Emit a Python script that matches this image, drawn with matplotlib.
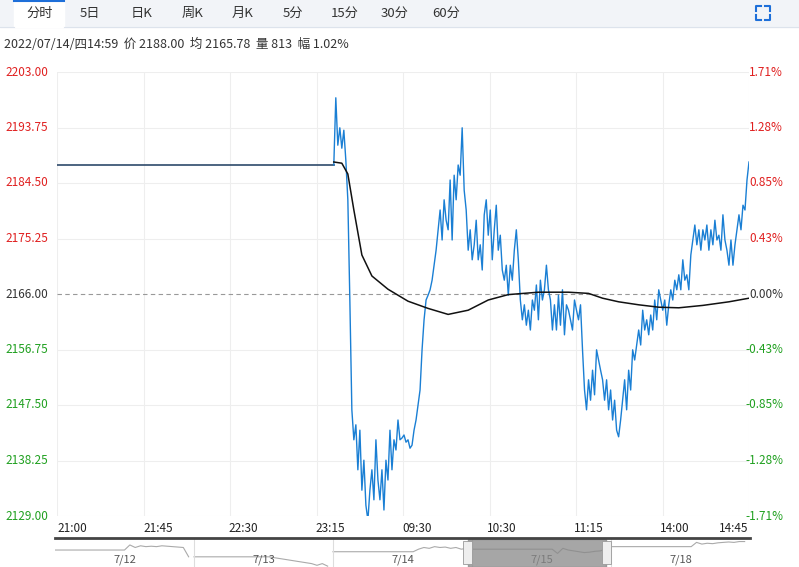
import matplotlib
matplotlib.use("Agg")
import matplotlib.pyplot as plt
from matplotlib.lines import Line2D
from matplotlib.patches import Rectangle

plt.rcParams['font.family'] = ['Noto Sans CJK SC', 'DejaVu Sans']

base = 2166.0
yticks = [2129.00, 2138.25, 2147.50, 2156.75, 2166.00, 2175.25, 2184.50, 2193.75, 2203.00]
pct_labels = ["-1.71%", "-1.28%", "-0.85%", "-0.43%", "0.00%", "0.43%", "0.85%", "1.28%", "1.71%"]
xtick_labels = ["21:00", "21:45", "22:30", "23:15", "09:30", "10:30", "11:15", "14:00", "14:45"]
tabs = ["分时", "5日", "日K", "周K", "月K", "5分", "15分", "30分", "60分"]
info = "2022/07/14/四14:59  价 2188.00  均 2165.78  量 813  幅 1.02%"

flat_price = 2187.5
flat_len = 138
price = [2187.5, 2198.7, 2190.8, 2193.7, 2190.3, 2193.3, 2188.3, 2181.7, 2165, 2146.7,
         2141.7, 2144.2, 2136.7, 2143.3, 2133.3, 2138.3, 2130.8, 2128.3, 2133.3, 2136.7,
         2131.7, 2141.7, 2135, 2131.7, 2136.7, 2130, 2138.3, 2135, 2143.3, 2136.7,
         2141.7, 2140, 2145, 2141.7, 2142, 2142.5, 2141.3, 2141.7, 2140.3, 2140.8,
         2143.3, 2145, 2147.5, 2150, 2156.7, 2161.7, 2165, 2165.8, 2166.7, 2168.3,
         2170.8, 2173.3, 2176.7, 2180, 2175, 2181.7, 2178.3, 2176.7, 2185, 2175,
         2185.8, 2181.7, 2187.5, 2185.8, 2193.7, 2183.3, 2180, 2173.3, 2176.7, 2171.7,
         2174.2, 2178.3, 2171.7, 2174.2, 2170, 2179.2, 2181.7, 2175.8, 2180, 2171.7,
         2176.7, 2180.8, 2173.3, 2175.8, 2170, 2168.3, 2170.8, 2165.8, 2170.8, 2168.3,
         2173.3, 2176.7, 2171.7, 2165, 2161.7, 2164.2, 2160.8, 2163.3, 2160, 2165,
         2163.3, 2167.5, 2161.7, 2168.3, 2165, 2166.7, 2170.8, 2166.7, 2165, 2160,
         2164.2, 2160, 2165.8, 2160.8, 2166.7, 2159.2, 2164.2, 2163.3, 2161.7, 2160,
         2165, 2163.3, 2161.7, 2164.2, 2156.7, 2150, 2146.7, 2151.7, 2148.3, 2153.3,
         2149.2, 2156.7, 2155, 2153.3, 2151.7, 2148.3, 2151.7, 2146.7, 2150, 2145,
         2148.3, 2143.3, 2142.2, 2145, 2148.3, 2151.7, 2146.7, 2153.3, 2150, 2156.7,
         2155, 2157.5, 2160, 2157.5, 2163.3, 2160, 2161.7, 2159.2, 2162.5, 2160,
         2165, 2161.7, 2166.7, 2165, 2163.3, 2165, 2160.8, 2164.2, 2166.7, 2165,
         2168.3, 2166.7, 2169.2, 2166.7, 2171.7, 2168.3, 2169.2, 2166.7, 2172.5, 2175,
         2177.5, 2174.2, 2176.7, 2173.3, 2176.7, 2175, 2177.5, 2173.3, 2176.7, 2174.2,
         2178.3, 2175, 2175.8, 2173.3, 2179.2, 2175, 2173.3, 2170.8, 2175, 2170.8,
         2174.2, 2176.7, 2179.2, 2176.7, 2180.8, 2180, 2185, 2188.0]
avg_idx = [138, 142, 145, 148, 152, 157, 165, 175, 185, 195, 205, 215, 225, 240, 255, 265, 272, 280, 290, 300, 310, 322, 335, 345]
avg_val = [2188.0, 2187.8, 2186.0, 2180.0, 2172.5, 2169.0, 2166.8, 2164.8, 2163.6, 2162.6, 2163.3, 2165.0, 2165.9, 2166.3, 2166.3, 2166.1, 2165.3, 2164.7, 2164.2, 2163.8, 2163.7, 2164.1, 2164.7, 2165.3]

nav_days = ["7/12", "7/13", "7/14", "7/15", "7/18"]
nav_a = [[2.0, 2.0, 2.0, 2.0, 2.0, 2.0, 2.0, 2.0, 2.0, 2.0, 2.0, 2.0, 2.0, 2.0, 2.6, 2.3, 2.5, 2.4, 2.45, 2.4, 2.5, 2.45, 2.4, 2.35, 2.3, 1.2],
         [1.2, 1.2, 1.2, 1.2, 1.2, 1.2, 1.2, 1.2, 1.2, 1.2, 1.2, 1.2, 1.2, 1.2, 1.2, 1.1, 1.0, 0.9, 0.8, 0.7, 0.6, 0.5, 0.4, 0.2, 0.4, 0.1],
         [1.8, 1.8, 1.8, 1.8, 1.8, 1.8, 1.8, 1.8, 1.8, 1.8, 1.8, 1.8, 1.8, 1.8, 1.8, 1.8, 2.1, 2.3, 2.2, 2.4, 2.3, 2.35, 2.2, 2.3, 2.1, 2.2],
         [2.1, 2.1, 2.1, 2.1, 2.1, 2.1, 2.1, 2.1, 2.1, 2.1, 2.1, 2.1, 2.1, 2.1, 2.1, 2.1, 1.6, 2.2, 2.0, 1.9, 1.8, 1.7, 1.75, 1.85, 1.9, 2.1],
         [2.4, 2.4, 2.4, 2.4, 2.4, 2.4, 2.4, 2.4, 2.4, 2.4, 2.4, 2.4, 2.4, 2.4, 2.4, 2.4, 2.9, 2.7, 2.8, 2.75, 2.85, 2.9, 2.95, 2.9, 3.0, 3.0]]

W, H = 799, 567
fig = plt.figure(figsize=(W / 100, H / 100), dpi=100)

def fx(px): return px / W
def fy(py): return 1 - py / H

fig.patches.append(Rectangle((0, fy(27)), 1, 27 / H, transform=fig.transFigure, color="#f2f4f8", zorder=0))
fig.patches.append(Rectangle((fx(14), fy(27)), 50 / W, 27 / H, transform=fig.transFigure, color="white", zorder=1))
fig.lines.append(Line2D([fx(14), fx(64)], [fy(1), fy(1)], transform=fig.transFigure, color="#1e6fd9", lw=1.5))
fig.lines.append(Line2D([fx(0), fx(14)], [fy(27), fy(27)], transform=fig.transFigure, color="#dde3ec", lw=0.8))
fig.lines.append(Line2D([fx(64), 1], [fy(27), fy(27)], transform=fig.transFigure, color="#dde3ec", lw=0.8))
tab_x = [40, 90, 142, 193, 243, 293, 345, 395, 446]
for t, x in zip(tabs, tab_x):
    fig.text(fx(x), fy(13), t, ha="center", va="center", fontsize=9.5, color="#333333")
c = "#1e6fd9"
for (x0, y0, dx, dy) in [(756, 6, 1, 1), (770, 6, -1, 1), (756, 20, 1, -1), (770, 20, -1, -1)]:
    fig.lines.append(Line2D([fx(x0), fx(x0), fx(x0 + 5 * dx)], [fy(y0 + 5 * dy), fy(y0), fy(y0)],
                            transform=fig.transFigure, color=c, lw=1.5))
fig.text(fx(4), fy(44), info, ha="left", va="center", fontsize=9, color="#333333")

ax = fig.add_axes([fx(57), fy(516), (749 - 57) / W, (516 - 72) / H])
N = 345
ax.set_xlim(0, N)
ax.set_ylim(yticks[0], yticks[-1])
xt = [i * N / 8 for i in range(9)]
for x in xt:
    ax.axvline(x, color="#eeeeee", lw=0.8, zorder=0)
for y in yticks:
    if y != base:
        ax.axhline(y, color="#eeeeee", lw=0.8, zorder=0)
ax.axhline(base, color="#999999", lw=0.8, ls=(0, (4, 3)), zorder=1)

ax.plot(range(0, flat_len + 1), [flat_price] * (flat_len + 1), color="#2e4a6b", lw=1.2, zorder=3)
ax.plot(range(flat_len, flat_len + len(price)), price, color="#1a7fd4", lw=1.0, zorder=3)
ax.plot(avg_idx, avg_val, color="#111111", lw=1.1, zorder=4)

for s in ax.spines.values():
    s.set_visible(False)
ax.set_xticks([])
ax.set_yticks([])
for y, p in zip(yticks, pct_labels):
    col = "#e02020" if y > base else ("#20a020" if y < base else "#333333")
    fig.text(fx(5), ax.transData.transform((0, y))[1] / H, f"{y:.2f}", ha="left", va="center", fontsize=8.5, color=col)
    fig.text(fx(783), ax.transData.transform((0, y))[1] / H, p, ha="right", va="center", fontsize=8.5, color=col)

lab_px = [72, 158, 243, 330, 417, 502, 589, 675, 734]
for t, x in zip(xtick_labels, lab_px):
    fig.text(fx(x), fy(529), t, ha="center", va="center", fontsize=8.5, color="#222222")

fig.lines.append(Line2D([fx(55), fx(750)], [fy(538), fy(538)], transform=fig.transFigure, color="#444444", lw=2))
nav = fig.add_axes([fx(55), 0, (750 - 55) / W, (H - 539) / H])
nav.set_xlim(0, 5 * 26)
nav.set_ylim(0, 3.3)
nav.axis("off")
for d in range(5):
    xs = [d * 26 + i for i in range(26)]
    nav.plot(xs, nav_a[d], color="#aaaaaa", lw=0.8)
    nav.text(d * 26 + 13, 0.9, nav_days[d], ha="center", va="center", fontsize=8, color="#555555")
    if d > 0:
        nav.axvline(d * 26, color="#dddddd", lw=0.8)
nav.add_patch(Rectangle((77.2, 0), 25.9, 3.3, color="#888888", alpha=0.75, zorder=5))
nav.add_patch(Rectangle((76.4, 0.3), 1.6, 2.8, facecolor="#eeeeee", edgecolor="#999999", lw=0.6, zorder=6))
nav.add_patch(Rectangle((102.4, 0.3), 1.6, 2.8, facecolor="#eeeeee", edgecolor="#999999", lw=0.6, zorder=6))

fig.savefig("out.png", dpi=100)
